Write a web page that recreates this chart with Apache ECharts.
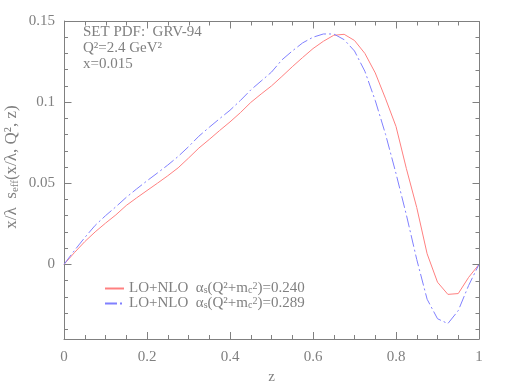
<!DOCTYPE html>
<html>
<head>
<meta charset="utf-8">
<script src="https://cdn.jsdelivr.net/npm/echarts@6/dist/echarts.min.js"></script>
<style>
  html, body { margin: 0; padding: 0; background: #fff; }
  #chart { width: 510px; height: 382px; }
</style>
</head>
<body>
<div id="chart"></div>
<script>
// z grid
const zValues = [0, 0.025, 0.05, 0.075, 0.1, 0.125, 0.15, 0.175, 0.2, 0.225, 0.25, 0.275, 0.3, 0.325,
  0.35, 0.375, 0.4, 0.425, 0.45, 0.475, 0.5, 0.525, 0.55, 0.575, 0.6, 0.625, 0.65, 0.675, 0.7,
  0.725, 0.75, 0.775, 0.8, 0.825, 0.85, 0.875, 0.9, 0.925, 0.95, 0.975, 1];
// LO+NLO, alpha_s = 0.240 (solid red)
const loNlo240 = [0, 0.0072, 0.0140, 0.0200, 0.0254, 0.0305, 0.0363, 0.0410, 0.0455, 0.0500, 0.0546,
  0.0595, 0.0655, 0.0717, 0.0770, 0.0825, 0.0878, 0.0935, 0.0998, 0.1050, 0.1100, 0.1158, 0.1218,
  0.1275, 0.1330, 0.1375, 0.1412, 0.1418, 0.1380, 0.1300, 0.1180, 0.1020, 0.0850, 0.0590, 0.0350,
  0.0065, -0.0110, -0.0185, -0.0180, -0.0080, 0];
// LO+NLO, alpha_s = 0.289 (dashed blue)
const loNlo289 = [0, 0.0085, 0.0165, 0.0240, 0.0300, 0.0355, 0.0413, 0.0465, 0.0515, 0.0563, 0.0612,
  0.0665, 0.0725, 0.0790, 0.0845, 0.0898, 0.0950, 0.1010, 0.1075, 0.1130, 0.1185, 0.1260, 0.1315,
  0.1365, 0.1400, 0.1420, 0.1420, 0.1385, 0.1315, 0.1190, 0.1010, 0.0800, 0.0560, 0.0305, 0.0030,
  -0.0215, -0.0335, -0.0365, -0.0285, -0.0130, 0];
const alphaLabels = ['0.240', '0.289'];
const seriesNames = ['LO+NLO 0.240', 'LO+NLO 0.289'];

// axis ticks
const xMinorValues = [0, 0.05, 0.1, 0.15, 0.2, 0.25, 0.3, 0.35, 0.4, 0.45, 0.5, 0.55, 0.6, 0.65,
  0.7, 0.75, 0.8, 0.85, 0.9, 0.95, 1];
const yLabelValues = [0, 0.05, 0.1, 0.15];
const yMinorValues = [-0.04, -0.03, -0.02, -0.01, 0, 0.01, 0.02, 0.03, 0.04, 0.05, 0.06, 0.07,
  0.08, 0.09, 0.1, 0.11, 0.12, 0.13, 0.14, 0.15];
const notes = ['SET PDF:  GRV-94', 'Q\u00b2=2.4 GeV\u00b2', 'x=0.015'];

const FONT = '"Liberation Serif", "DejaVu Serif", serif';
const GREY = '#808080';
const Y_MIN = -0.046, Y_MAX = 0.15;

const zip = (xs, ys) => xs.map((x, i) => [x, ys[i]]);

const chart = echarts.init(document.getElementById('chart'));

chart.setOption({
  animation: false,
  grid: { left: 64, right: 31, top: 21, bottom: 43, outerBoundsMode: 'none' },
  xAxis: {
    type: 'value', position: 'bottom', min: 0, max: 1, interval: 0.2,
    axisLine: { show: true, onZero: false, lineStyle: { color: GREY, width: 1 } },
    axisTick: { show: true, inside: true, length: 7, lineStyle: { color: GREY } },
    minorTick: { show: true, splitNumber: 4, length: 4, lineStyle: { color: GREY } },
    axisLabel: { color: GREY, fontFamily: FONT, fontSize: 15, margin: 11 },
    splitLine: { show: false },
    name: 'z', nameLocation: 'middle', nameGap: 30,
    nameTextStyle: { color: GREY, fontFamily: FONT, fontSize: 15 }
  },
  yAxis: {
    type: 'value', position: 'left', min: Y_MIN, max: Y_MAX,
    axisLine: { show: true, onZero: false, lineStyle: { color: GREY, width: 1 } },
    axisTick: { show: true, inside: true, length: 4, customValues: yMinorValues, lineStyle: { color: GREY } },
    axisLabel: { customValues: yLabelValues, color: GREY, fontFamily: FONT, fontSize: 15, margin: 9 },
    splitLine: { show: false }
  },
  legend: {
    orient: 'vertical', left: 104, top: 281, padding: 0,
    itemWidth: 19, itemHeight: 10, itemGap: 0,
    data: seriesNames,
    itemStyle: { opacity: 0 },
    formatter: (name) => {
      const a = alphaLabels[seriesNames.indexOf(name)];
      return 'LO+NLO  \u03b1{sub|s}(Q\u00b2+m{sub|c}{sup|2})=' + a;
    },
    textStyle: {
      color: GREY, fontFamily: FONT, fontSize: 15, lineHeight: 14,
      rich: {
        sub: { fontFamily: FONT, fontSize: 10, color: GREY, lineHeight: 14, verticalAlign: 'bottom' },
        sup: { fontFamily: FONT, fontSize: 10, color: GREY, lineHeight: 14, verticalAlign: 'top' }
      }
    }
  },
  series: [
    {
      name: seriesNames[0], type: 'line', data: zip(zValues, loNlo240),
      symbol: 'none', smooth: false,
      lineStyle: { color: '#ff8080', width: 1 }, itemStyle: { color: '#ff8080' }
    },
    {
      name: seriesNames[1], type: 'line', data: zip(zValues, loNlo289),
      symbol: 'none', smooth: false,
      lineStyle: { color: '#8080ff', width: 1, type: [12, 3, 2, 3] }, itemStyle: { color: '#8080ff' }
    }
  ]
});

// frame on top/right + mirrored ticks, placed through the axis scales
const px = (x, y) => chart.convertToPixel({ xAxisIndex: 0, yAxisIndex: 0 }, [x, y]);
const crisp = (v) => Math.round(v) + 0.5;
const seg = (x1, y1, x2, y2) => ({
  type: 'line', z: 50, silent: true,
  shape: { x1: x1, y1: y1, x2: x2, y2: y2 },
  style: { stroke: GREY, lineWidth: 1 }
});

const edgeL = crisp(px(0, 0)[0]);
const edgeR = crisp(px(1, 0)[0]);
const edgeT = crisp(px(0, Y_MAX)[1]);
const edgeB = crisp(px(0, Y_MIN)[1]);

const frame = [seg(edgeL, edgeT, edgeR, edgeT), seg(edgeR, edgeT, edgeR, edgeB)];
xMinorValues.forEach((z, i) => {
  const x = crisp(px(z, 0)[0]);
  frame.push(seg(x, edgeT, x, edgeT + (i % 4 === 0 ? 7 : 4)));
});
yMinorValues.forEach((v) => {
  const y = crisp(px(0, v)[1]);
  frame.push(seg(edgeR, y, edgeR - 4, y));
});
yLabelValues.forEach((v) => {
  const y = crisp(px(0, v)[1]);
  frame.push(seg(edgeR, y, edgeR - 7, y));
  frame.push(seg(edgeL, y, edgeL + 7, y));
});

chart.setOption({
  graphic: notes.map((t, i) => ({
    type: 'text', left: 83, top: 25 + i * 16,
    style: { text: t, fill: GREY, font: '15px ' + FONT }
  })).concat([{
    type: 'text', x: 12, y: 167, rotation: Math.PI / 2,
    style: {
      text: 'x/\u03bb  s{sub|eff}(x/\u03bb, Q\u00b2, z)',
      fill: GREY, font: '17px ' + FONT, align: 'center', verticalAlign: 'middle',
      rich: {
        sub: { font: '11px ' + FONT, fill: GREY, verticalAlign: 'bottom' }
      }
    }
  }]).concat(frame)
});
</script>
</body>
</html>
